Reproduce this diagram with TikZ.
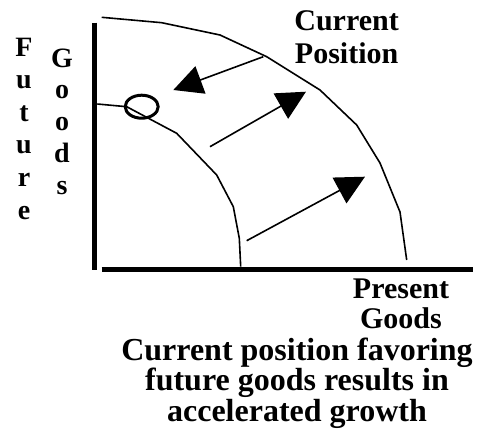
\documentclass[tikz,border=0pt]{standalone}
\usepackage{fontspec}
\setmainfont{Liberation Serif}
\usetikzlibrary{arrows.meta,shapes.geometric}
\begin{document}
\begin{tikzpicture}[x=1pt,y=-1pt,
  axisline/.style={line width=5.5pt},
  curveline/.style={line width=1.6pt, line join=round},
  shiftarrow/.style={line width=1.6pt, -{Triangle[length=29pt,width=29pt]}},
  lbl/.style={inner sep=0pt, align=center},
]
\useasboundingbox (0,0) rectangle (480,429);
% axes
\coordinate (ytop) at (94.3,22.7);
\coordinate (ybot) at (94.3,269.5);
\coordinate (xl) at (101.7,269.7);
\coordinate (xr) at (473.3,269.7);
\draw[axisline] (ytop) -- (ybot);
\draw[axisline] (xl) -- (xr);
% outer frontier
\draw[curveline] (101.7,17.3) -- (161.7,22.7) -- (220,35) -- (266.7,56.7) -- (320,90)
  -- (356.7,125) -- (380,163) -- (400,212) -- (406.7,260);
% inner frontier
\draw[curveline] (97.3,104) -- (126.7,106.7) -- (176.7,133.3) -- (216.7,175)
  -- (233.3,206.7) -- (239.3,238.3) -- (240.7,266.7);
% current position marker
\node[draw, line width=3pt, ellipse, minimum width=33pt, minimum height=23pt, inner sep=0pt] (pos) at (141.7,106.7) {};
% arrows
\coordinate (a1s) at (263.3,56.7);
\coordinate (a1e) at (173.3,90);
\coordinate (a2s) at (210,146.7);
\coordinate (a2e) at (306,91.7);
\coordinate (a3s) at (246.7,240.7);
\coordinate (a3e) at (365,176.7);
\draw[shiftarrow] (a1s) -- (a1e);
\draw[shiftarrow] (a2s) -- (a2e);
\draw[shiftarrow] (a3s) -- (a3e);
% labels (base anchor = baseline of last line)
\node[lbl, anchor=base, font=\bfseries\fontsize{30}{32.6}\selectfont] (curpos) at (346.6,63.3) {Current\\Position};
\node[lbl, anchor=base, font=\bfseries\fontsize{30}{30}\selectfont] (present) at (401,328.3) {Present\\Goods};
\node[lbl, anchor=base, font=\bfseries\fontsize{32}{30.7}\selectfont] (caption) at (297,421.5) {Current position favoring\\future goods results in\\accelerated growth};
\node[lbl, anchor=base, font=\bfseries\fontsize{28}{32.6}\selectfont] (future) at (24,219) {F\\u\\t\\u\\r\\e};
\node[lbl, anchor=base, font=\bfseries\fontsize{28}{31.75}\selectfont] (goods) at (62,194) {G\\o\\o\\d\\s};
\end{tikzpicture}
\end{document}
